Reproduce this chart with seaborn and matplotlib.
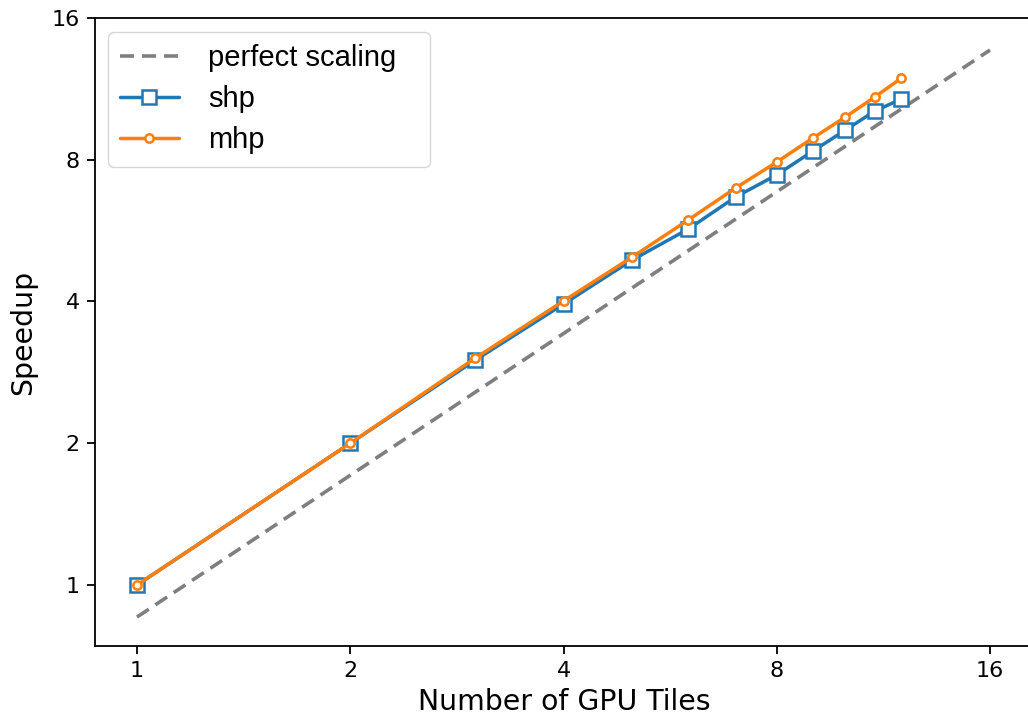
import matplotlib
matplotlib.use("Agg")
import matplotlib.pyplot as plt
import seaborn as sns
import pandas as pd
from matplotlib.ticker import FixedLocator, FixedFormatter, NullLocator

tiles = [1, 2, 3, 4, 5, 6, 7, 8, 9, 10, 11, 12]
shp = [1.0, 2.0, 3.0, 3.95, 4.90, 5.70, 6.67, 7.43, 8.35, 9.25, 10.15, 10.77]
mhp = [1.0, 2.0, 3.03, 4.01, 4.97, 5.96, 6.97, 7.91, 8.90, 9.86, 10.87, 11.93]
perfect_x = [1, 16]
perfect_y = [0.855, 13.68]
tick_vals = [1, 2, 4, 8, 16]
tick_labels = ["1", "2", "4", "8", "16"]

sns.set_style("ticks")
plt.rcParams["font.family"] = ["DejaVu Sans"]
for k in ["axes.edgecolor", "xtick.color", "ytick.color", "text.color", "axes.labelcolor"]:
    plt.rcParams[k] = "black"

W, H = 1028, 719
fig = plt.figure(figsize=(W / 100, H / 100), dpi=100)
ax = fig.add_axes([95 / W, (H - 646) / H, (1033 - 95) / W, (646 - 18) / H])

df_perf = pd.DataFrame({"x": perfect_x, "y": perfect_y})
df_shp = pd.DataFrame({"x": tiles, "y": shp})
df_mhp = pd.DataFrame({"x": tiles, "y": mhp})

sns.lineplot(data=df_perf, x="x", y="y", ax=ax, color="#7f7f7f", linestyle=(0, (3.9, 2.2)),
             linewidth=2.6, label="perfect scaling")
sns.lineplot(data=df_shp, x="x", y="y", ax=ax, color="#1f77b4", linewidth=2.5,
             marker="s", markersize=10, markerfacecolor="white", markeredgecolor="#1f77b4",
             markeredgewidth=1.8, label="shp")
sns.lineplot(data=df_mhp, x="x", y="y", ax=ax, color="#ff7f0e", linewidth=2.5,
             marker="o", markersize=6, markerfacecolor="white", markeredgecolor="#ff7f0e",
             markeredgewidth=1.8, label="mhp")

ax.set_xscale("log", base=2)
ax.set_yscale("log", base=2)
ax.set_xlim(0.8723, 18.4)
ax.set_ylim(0.742, 16)
ax.xaxis.set_major_locator(FixedLocator(tick_vals))
ax.xaxis.set_major_formatter(FixedFormatter(tick_labels))
ax.yaxis.set_major_locator(FixedLocator(tick_vals))
ax.yaxis.set_major_formatter(FixedFormatter(tick_labels))
ax.xaxis.set_minor_locator(NullLocator())
ax.yaxis.set_minor_locator(NullLocator())
ax.tick_params(axis="both", labelsize=16, length=6, width=1.3, pad=5)
for s in ax.spines.values():
    s.set_linewidth(1.3)

ax.set_xlabel("Number of GPU Tiles", fontsize=20.4, labelpad=5)
ax.set_ylabel("Speedup", fontsize=20.4, labelpad=10)

bx = (108 - 95) / 938
by = 1 - (32 - 18) / 628
bw = (430 - 108) / 938
leg = ax.legend(loc="upper left", prop={"family": "Liberation Sans", "size": 21},
                frameon=True, handlelength=2.0, borderpad=0.42, labelspacing=0.45,
                handletextpad=1.0, fancybox=True, framealpha=0.8, edgecolor="#cccccc",
                bbox_to_anchor=(bx, by - 0.3, bw, 0.3), mode="expand", borderaxespad=0)

fig.savefig("out.png", dpi=100)
